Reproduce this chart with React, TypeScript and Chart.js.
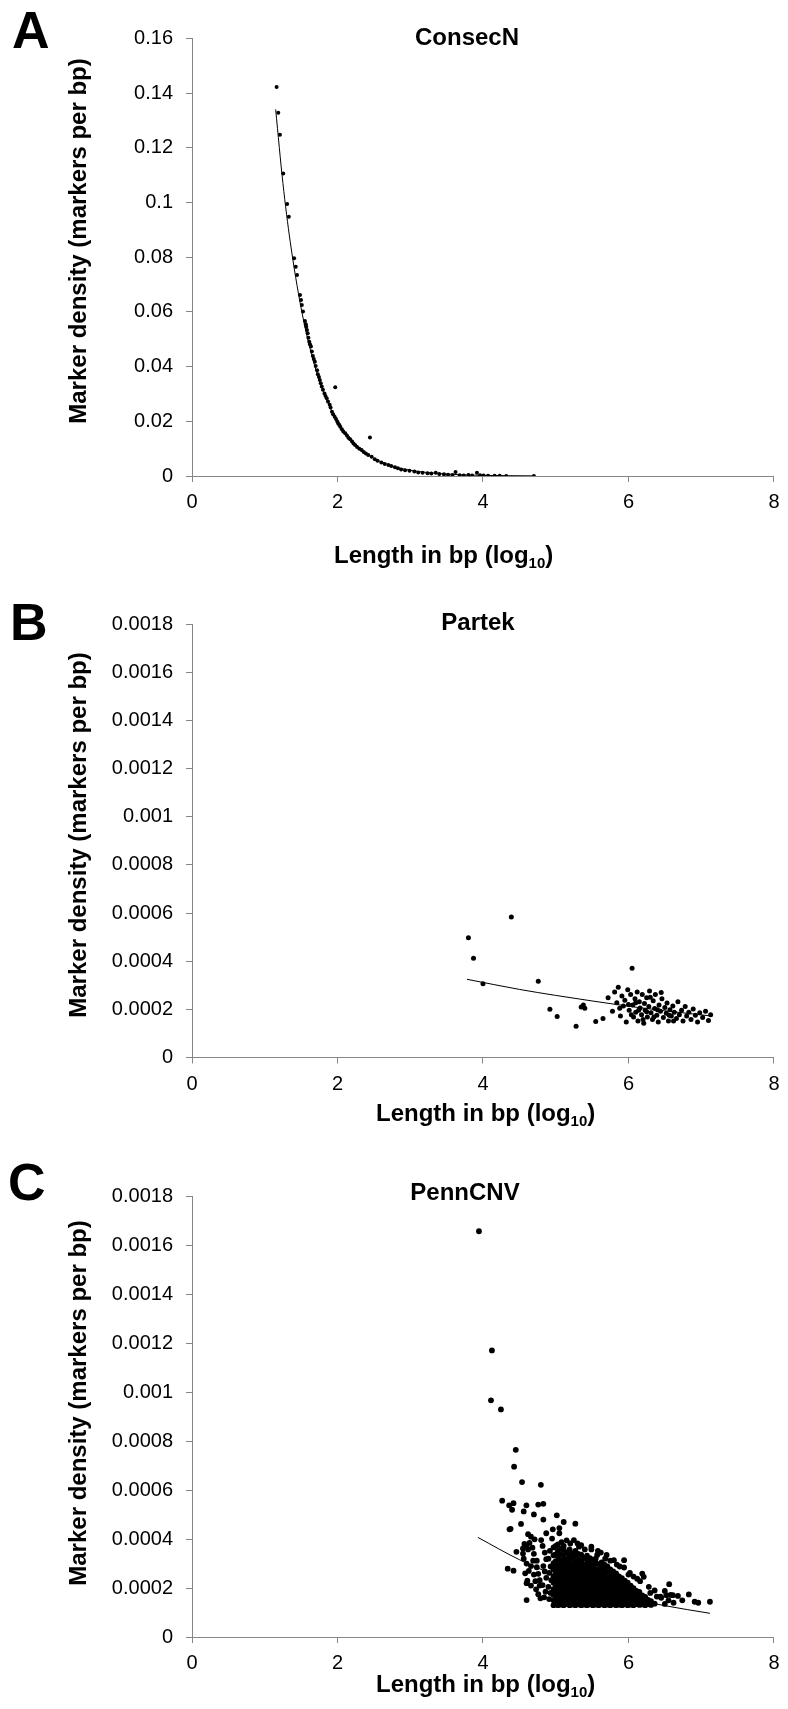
import React, { useEffect, useRef } from "react";
import { Chart, registerables } from "chart.js";

Chart.register(...registerables);

const FONT = "'Liberation Sans', Arial, Helvetica, sans-serif";
const AXIS_GREY = "#868686";

// ---------- tick values / labels ----------
const xTickValues = [0, 2, 4, 6, 8];
const xTickLabels = ["0", "2", "4", "6", "8"];
const consecYTickValues = [0, 0.02, 0.04, 0.06, 0.08, 0.1, 0.12, 0.14, 0.16];
const consecYTickLabels = ["0", "0.02", "0.04", "0.06", "0.08", "0.1", "0.12", "0.14", "0.16"];
const densityYTickValues = [0, 0.0002, 0.0004, 0.0006, 0.0008, 0.001, 0.0012, 0.0014, 0.0016, 0.0018];
const densityYTickLabels = ["0", "0.0002", "0.0004", "0.0006", "0.0008", "0.001", "0.0012", "0.0014", "0.0016", "0.0018"];

// ---------- A: ConsecN (log10 length, markers per bp) ----------
const consecPoints: [number, number][] = [
  [1.163, 0.1422], [1.186, 0.1328], [1.209, 0.1247], [1.254, 0.1106], [1.308, 0.0994],
  [1.331, 0.0948], [1.404, 0.0796], [1.426, 0.0765], [1.444, 0.0735], [1.485, 0.0662],
  [1.499, 0.0643], [1.51, 0.0625], [1.526, 0.0601], [1.553, 0.0567], [1.565, 0.0555],
  [1.571, 0.0546], [1.58, 0.0534], [1.59, 0.0522], [1.6, 0.0505], [1.612, 0.0491],
  [1.622, 0.0482], [1.635, 0.0473], [1.648, 0.0455], [1.662, 0.0439], [1.675, 0.0428],
  [1.689, 0.0418], [1.7, 0.0402], [1.72, 0.0387], [1.73, 0.0372], [1.745, 0.0362],
  [1.757, 0.0351], [1.77, 0.0339], [1.784, 0.0327], [1.8, 0.0315], [1.821, 0.0302],
  [1.835, 0.0292], [1.852, 0.0284], [1.87, 0.0272], [1.893, 0.026], [1.905, 0.025],
  [1.924, 0.0235], [1.94, 0.0226], [1.961, 0.0217], [1.969, 0.0324], [1.98, 0.0208],
  [1.997, 0.0199], [2.01, 0.0192], [2.025, 0.0186], [2.038, 0.018], [2.06, 0.0171],
  [2.08, 0.0163], [2.106, 0.0156], [2.13, 0.0148], [2.15, 0.014], [2.174, 0.0134],
  [2.2, 0.0126], [2.22, 0.0119], [2.242, 0.0113], [2.27, 0.0106], [2.3, 0.01],
  [2.332, 0.0095], [2.36, 0.0088], [2.39, 0.0082], [2.423, 0.0077], [2.446, 0.0141],
  [2.47, 0.007], [2.513, 0.0061], [2.55, 0.0056], [2.603, 0.0049], [2.65, 0.0044],
  [2.7, 0.004], [2.739, 0.0037], [2.79, 0.0032], [2.83, 0.0028], [2.875, 0.0024],
  [2.93, 0.0021], [2.99, 0.0019], [3.057, 0.0016], [3.11, 0.0013], [3.17, 0.0012],
  [3.238, 0.001], [3.29, 0.0009], [3.351, 0.0012], [3.4, 0.0007], [3.464, 0.0006],
  [3.52, 0.0005], [3.58, 0.0004], [3.623, 0.0015], [3.68, 0.0003], [3.736, 0.0002],
  [3.8, 0.0004], [3.85, 0.0002], [3.917, 0.0012], [3.96, 0.0003], [4.008, 0.0002],
  [4.07, 0.0001], [4.16, 0.0001], [4.23, 0.0001], [4.32, 0.0], [4.7, 0.0],
];
const consecTrend: [number, number][] = [
  [1.15, 0.134], [1.25, 0.107], [1.35, 0.0857], [1.5, 0.0614], [1.65, 0.0438], [1.8, 0.0313],
  [2.0, 0.0199], [2.25, 0.0114], [2.5, 0.0065], [2.75, 0.0037], [3.0, 0.0021], [3.5, 0.0007],
  [4.0, 0.00023], [4.7, 0.00005],
];

// ---------- B: Partek ----------
const partekPoints: [number, number][] = [
  [3.8, 0.000498], [3.87, 0.000412], [4.0, 0.000306], [4.39, 0.000584], [4.76, 0.000317],
  [4.92, 0.0002], [5.02, 0.00017], [5.28, 0.00013], [5.35, 0.00021], [5.38, 0.000218],
  [5.4, 0.000205], [5.55, 0.00015], [5.65, 0.000162],
  [5.72, 0.000248], [5.78, 0.000192], [5.81, 0.000272], [5.84, 0.000228], [5.86, 0.000292],
  [5.89, 0.000172], [5.91, 0.000256], [5.93, 0.000214], [5.95, 0.000238], [5.97, 0.000148],
  [5.99, 0.000282], [6.01, 0.000196], [6.03, 0.000262], [6.05, 0.000371], [6.06, 0.000218],
  [6.07, 0.000168], [6.09, 0.000244], [6.1, 0.000188], [6.12, 0.000272], [6.13, 0.000152],
  [6.15, 0.000232], [6.16, 0.000206], [6.18, 0.000178], [6.19, 0.000262], [6.21, 0.000142],
  [6.22, 0.000224], [6.23, 0.000196], [6.25, 0.000248], [6.26, 0.000168], [6.28, 0.000212],
  [6.29, 0.000276], [6.31, 0.000186], [6.33, 0.000158], [6.34, 0.000236], [6.36, 0.000204],
  [6.37, 0.000262], [6.39, 0.000176], [6.41, 0.000148], [6.42, 0.000218], [6.44, 0.000192],
  [6.46, 0.000244], [6.48, 0.000166], [6.5, 0.000208], [6.52, 0.000184], [6.53, 0.000226],
  [6.55, 0.000152], [6.57, 0.000198], [6.59, 0.000172], [6.61, 0.000214], [6.63, 0.000188],
  [6.66, 0.000162], [6.68, 0.000232], [6.7, 0.000178], [6.73, 0.000196], [6.75, 0.000152],
  [6.78, 0.000212], [6.8, 0.000172], [6.83, 0.000188], [6.86, 0.000158], [6.89, 0.000202],
  [6.92, 0.000176], [6.95, 0.000148], [6.98, 0.000186], [7.02, 0.000166], [7.06, 0.000192],
  [7.1, 0.000154], [7.13, 0.000178], [6.2, 0.000158], [6.0, 0.00022], [6.3, 0.00025],
  [6.45, 0.00027], [5.88, 0.000205], [6.1, 0.000228], [6.25, 0.00019], [6.62, 0.000152],
  [6.4, 0.000198], [6.04, 0.000178], [6.14, 0.000196], [6.35, 0.000168], [6.56, 0.000176],
];
const partekTrend: [number, number][] = [
  [3.78, 0.000325], [4.5, 0.000283], [5.0, 0.000258], [5.5, 0.000235], [6.0, 0.000213],
  [6.5, 0.000194], [7.15, 0.000172],
];

// ---------- C: PennCNV ----------
const pennScatter: [number, number][] = [
  [3.945, 0.001658], [4.123, 0.001171], [4.11, 0.000967], [4.247, 0.00093], [4.451, 0.000765],
  [4.428, 0.000696], [4.537, 0.000633], [4.796, 0.000622], [4.264, 0.000557], [4.36, 0.000538],
  [4.42, 0.000547], [4.4, 0.00052], [4.597, 0.000538], [4.56, 0.000513], [4.7, 0.000501],
  [4.76, 0.000541], [4.83, 0.000544], [5.015, 0.000497], [4.83, 0.00048], [4.523, 0.000462],
  [4.365, 0.00044], [4.38, 0.000442], [4.96, 0.00044], [5.11, 0.00047], [5.27, 0.000463],
  [4.62, 0.00042], [4.66, 0.00041], [4.71, 0.000399], [4.8, 0.000396], [4.87, 0.000424],
  [5.05, 0.000445], [5.05, 0.000424], [5.25, 0.000396], [4.34, 0.000279], [4.42, 0.000271],
  [4.6, 0.000151], [4.79, 0.000158], [5.94, 0.000314], [5.94, 0.000284], [6.19, 0.000259],
  [6.21, 0.000246], [6.56, 0.000216], [6.83, 0.000174], [6.91, 0.000144], [6.96, 0.00014],
  [7.12, 0.000144], [6.61, 0.000171], [6.52, 0.000171], [6.44, 0.000165], [5.49, 0.000369],
  [5.49, 0.000358], [5.32, 0.000369], [5.57, 0.000335], [5.7, 0.000335], [5.8, 0.000314],
  [6.07, 0.000247], [6.3, 0.00018], [6.39, 0.000165], [4.57, 0.00038], [4.6, 0.000372],
  [4.64, 0.000385], [4.55, 0.000362], [4.62, 0.000358], [4.46, 0.000348], [4.55, 0.000341],
  [4.56, 0.00032], [4.6, 0.0003], [4.58, 0.00026], [4.63, 0.00027], [4.61, 0.00023],
  [4.66, 0.00021], [4.6, 0.00022], [4.68, 0.000365], [4.7, 0.00034], [4.74, 0.000312],
  [4.74, 0.000285], [4.76, 0.000258], [4.78, 0.000232], [4.72, 0.000228], [4.73, 0.000195],
  [4.76, 0.000175], [4.78, 0.00021], [4.82, 0.000372], [4.85, 0.000345], [4.87, 0.000318],
  [4.83, 0.00029], [4.85, 0.000268], [4.87, 0.000242], [4.82, 0.000212], [4.86, 0.000185],
  [4.84, 0.000162], [4.7, 0.000255], [4.66, 0.00029], [4.69, 0.000312], [6.5, 0.000135],
  [6.55, 0.00015], [6.62, 0.00014], [6.45, 0.00016], [6.5, 0.000188], [6.58, 0.000172],
  [5.4, 0.000358], [5.15, 0.000395], [5.62, 0.000345], [5.75, 0.000312], [5.88, 0.000288],
  [6.02, 0.000262], [6.12, 0.000238], [5.2, 0.000382], [4.95, 0.000402], [5.35, 0.000375],
  [4.92, 0.000352], [4.9, 0.00032], [4.93, 0.000288], [4.91, 0.000262], [4.94, 0.000232],
  [4.9, 0.000205], [4.93, 0.00018], [4.91, 0.000155], [5.08, 0.000388], [5.3, 0.000382],
  [5.58, 0.000352], [5.68, 0.00032], [5.84, 0.000296], [6.0, 0.000255], [6.16, 0.000228],
  [6.28, 0.000205], [6.36, 0.00019], [6.68, 0.000168], [6.74, 0.00015],
];
// dense core, listed column by column: [log10 length, densities at that length]
const pennCore: [number, number[]][] = [
  [4.97, [0.00013, 0.00015, 0.000172, 0.000196, 0.000222, 0.000248, 0.000275, 0.000302, 0.000334, 0.000366]],
  [5.0, [0.000134, 0.000152, 0.00017, 0.00019, 0.000212, 0.000236, 0.000258, 0.000284, 0.00031, 0.000338, 0.000372]],
  [5.03, [0.00013, 0.000148, 0.000166, 0.000184, 0.000202, 0.00022, 0.000238, 0.000256, 0.000274, 0.000292, 0.00031, 0.00033, 0.000352, 0.000378]],
  [5.07, [0.000132, 0.00015, 0.000168, 0.000186, 0.000204, 0.000222, 0.00024, 0.000258, 0.000276, 0.000294, 0.000314, 0.000336, 0.00036]],
  [5.11, [0.00013, 0.000148, 0.000166, 0.000184, 0.000202, 0.00022, 0.000238, 0.000256, 0.000274, 0.000292, 0.000312, 0.000334, 0.000356, 0.000372]],
  [5.15, [0.000134, 0.000152, 0.00017, 0.000188, 0.000206, 0.000224, 0.000242, 0.00026, 0.000278, 0.000296, 0.000318, 0.000344]],
  [5.19, [0.00013, 0.000148, 0.000166, 0.000184, 0.000202, 0.00022, 0.000238, 0.000256, 0.000274, 0.000292, 0.000312, 0.000334, 0.000358]],
  [5.23, [0.000132, 0.00015, 0.000168, 0.000186, 0.000204, 0.000222, 0.00024, 0.000258, 0.000276, 0.000296, 0.00032, 0.000342]],
  [5.27, [0.00013, 0.000148, 0.000166, 0.000184, 0.000202, 0.00022, 0.000238, 0.000256, 0.000274, 0.000292, 0.00031, 0.000332, 0.000352]],
  [5.31, [0.000133, 0.000151, 0.000169, 0.000187, 0.000205, 0.000223, 0.000241, 0.000259, 0.000277, 0.000297, 0.000318, 0.00034]],
  [5.35, [0.00013, 0.000148, 0.000166, 0.000184, 0.000202, 0.00022, 0.000238, 0.000256, 0.000274, 0.000292, 0.000312, 0.000336]],
  [5.39, [0.000132, 0.00015, 0.000168, 0.000186, 0.000204, 0.000222, 0.00024, 0.000258, 0.000276, 0.000296, 0.000322]],
  [5.43, [0.00013, 0.000148, 0.000166, 0.000184, 0.000202, 0.00022, 0.000238, 0.000256, 0.000274, 0.000294, 0.000314, 0.000332]],
  [5.47, [0.000133, 0.000151, 0.000169, 0.000187, 0.000205, 0.000223, 0.000241, 0.000259, 0.000279, 0.0003, 0.000322]],
  [5.51, [0.00013, 0.000148, 0.000166, 0.000184, 0.000202, 0.00022, 0.000238, 0.000256, 0.000274, 0.000294, 0.000316]],
  [5.55, [0.000132, 0.00015, 0.000168, 0.000186, 0.000204, 0.000222, 0.00024, 0.000258, 0.000278, 0.000302, 0.00032]],
  [5.59, [0.00013, 0.000148, 0.000166, 0.000184, 0.000202, 0.00022, 0.000238, 0.000256, 0.000276, 0.000298]],
  [5.63, [0.000133, 0.000151, 0.000169, 0.000187, 0.000205, 0.000223, 0.000241, 0.00026, 0.000282, 0.000305]],
  [5.67, [0.00013, 0.000148, 0.000166, 0.000184, 0.000202, 0.00022, 0.000238, 0.000256, 0.000276, 0.000296]],
  [5.71, [0.000132, 0.00015, 0.000168, 0.000186, 0.000204, 0.000222, 0.000242, 0.000264, 0.000288]],
  [5.75, [0.00013, 0.000148, 0.000166, 0.000184, 0.000202, 0.00022, 0.00024, 0.000258, 0.000276]],
  [5.79, [0.000133, 0.000151, 0.000169, 0.000187, 0.000205, 0.000225, 0.000246, 0.000268]],
  [5.83, [0.00013, 0.000148, 0.000166, 0.000184, 0.000202, 0.00022, 0.00024, 0.00026]],
  [5.87, [0.000132, 0.00015, 0.000168, 0.000186, 0.000206, 0.000228, 0.000248]],
  [5.91, [0.00013, 0.000148, 0.000166, 0.000184, 0.000204, 0.000222, 0.00024]],
  [5.95, [0.000133, 0.000151, 0.000169, 0.000189, 0.00021, 0.00023]],
  [5.99, [0.00013, 0.000148, 0.000166, 0.000186, 0.000204, 0.000222]],
  [6.03, [0.000132, 0.00015, 0.00017, 0.00019, 0.00021]],
  [6.07, [0.00013, 0.000148, 0.000166, 0.000182, 0.0002]],
  [6.11, [0.000134, 0.000152, 0.00017, 0.000188]],
  [6.15, [0.000131, 0.000148, 0.000166, 0.000184]],
  [6.19, [0.000133, 0.000152, 0.00017]],
  [6.23, [0.00013, 0.000148, 0.000164]],
  [6.27, [0.000134, 0.000152]],
  [6.31, [0.000131, 0.000146]],
  [6.36, [0.000136]],
];
const pennTrend: [number, number][] = [
  [3.93, 0.000407], [4.5, 0.000316], [5.0, 0.000252], [5.5, 0.000201], [6.0, 0.00016],
  [6.5, 0.000128], [7.12, 0.0000968],
];

// ---------- text plugin (panel letter, title, axis titles) ----------
const panelTextPlugin = {
  id: "panelText",
  afterDraw(chart: any, _args: any, o: any) {
    const ctx: CanvasRenderingContext2D = chart.ctx;
    ctx.save();
    ctx.fillStyle = "#000";
    ctx.textBaseline = "alphabetic";
    ctx.font = `bold 52px ${FONT}`;
    ctx.textAlign = "left";
    ctx.fillText(o.letter, o.letterX, o.letterY);
    ctx.font = `bold 24px ${FONT}`;
    ctx.textAlign = "center";
    ctx.fillText(o.title, o.titleX, o.titleY);
    ctx.textAlign = "left";
    ctx.font = `bold 24px ${FONT}`;
    let x = o.xTitleX;
    const main = "Length in bp (log";
    ctx.fillText(main, x, o.xTitleY);
    x += ctx.measureText(main).width;
    ctx.font = `bold 15px ${FONT}`;
    ctx.fillText("10", x, o.xTitleY + 5);
    x += ctx.measureText("10").width;
    ctx.font = `bold 24px ${FONT}`;
    ctx.fillText(")", x, o.xTitleY);
    ctx.translate(o.yTitleX, o.yTitleY);
    ctx.rotate(-Math.PI / 2);
    ctx.textAlign = "center";
    ctx.textBaseline = "middle";
    ctx.font = `bold 24px ${FONT}`;
    ctx.fillText("Marker density (markers per bp)", 0, 0);
    ctx.restore();
  },
};

type PanelSpec = {
  height: number;
  yMax: number;
  yTickValues: number[];
  yTickLabels: string[];
  points: [number, number][];
  trend: [number, number][];
  pointRadius: number;
  padTop: number;
  padBottom: number;
  text: any;
};

function makeConfig(s: PanelSpec): any {
  const tickFont = { family: FONT, size: 20 };
  return {
    type: "scatter",
    data: {
      datasets: [
        {
          data: s.trend.map(([x, y]) => ({ x, y })),
          showLine: true,
          borderColor: "#000",
          borderWidth: 1,
          pointRadius: 0,
          cubicInterpolationMode: "monotone",
          fill: false,
          order: 2,
        },
        {
          data: s.points.map(([x, y]) => ({ x, y })),
          pointRadius: s.pointRadius,
          pointBackgroundColor: "#000",
          pointBorderWidth: 0,
          showLine: false,
          order: 1,
        },
      ],
    },
    options: {
      responsive: false,
      maintainAspectRatio: false,
      animation: false,
      devicePixelRatio: 1,
      events: [],
      layout: { padding: { left: 0, right: 9.5, top: s.padTop, bottom: s.padBottom } },
      plugins: {
        legend: { display: false },
        tooltip: { enabled: false },
        title: { display: false },
        panelText: s.text,
      },
      scales: {
        x: {
          type: "linear",
          min: 0,
          max: 8,
          afterBuildTicks: (scale: any) => {
            scale.ticks = xTickValues.map((v) => ({ value: v }));
          },
          afterFit: (scale: any) => {
            scale.height = 45;
          },
          ticks: {
            font: tickFont,
            color: "#000",
            padding: 8.5,
            maxRotation: 0,
            autoSkip: false,
            callback: (_v: any, i: number) => xTickLabels[i],
          },
          grid: { drawOnChartArea: false, drawTicks: true, tickLength: 6, color: AXIS_GREY },
          border: { display: true, color: AXIS_GREY, width: 1 },
        },
        y: {
          type: "linear",
          min: 0,
          max: s.yMax,
          afterBuildTicks: (scale: any) => {
            scale.ticks = s.yTickValues.map((v) => ({ value: v }));
          },
          afterFit: (scale: any) => {
            scale.width = 192;
          },
          ticks: {
            font: tickFont,
            color: "#000",
            padding: 13,
            autoSkip: false,
            callback: (_v: any, i: number) => s.yTickLabels[i],
          },
          grid: { drawOnChartArea: false, drawTicks: true, tickLength: 6, color: AXIS_GREY },
          border: { display: true, color: AXIS_GREY, width: 1 },
        },
      },
    },
    plugins: [panelTextPlugin],
  };
}

function Panel({ spec, top }: { spec: PanelSpec; top: number }) {
  const ref = useRef<HTMLCanvasElement>(null);
  useEffect(() => {
    const chart = new Chart(ref.current as HTMLCanvasElement, makeConfig(spec));
    return () => chart.destroy();
  }, []);
  return (
    <canvas
      ref={ref}
      width={788}
      height={spec.height}
      style={{ position: "absolute", left: 0, top, width: 788, height: spec.height, display: "block" }}
    />
  );
}

const pennPoints: [number, number][] = [
  ...pennScatter,
  ...pennCore.flatMap(([x, ys]) => ys.map((y) => [x, y] as [number, number])),
];

const specA: PanelSpec = {
  height: 585,
  yMax: 0.16,
  yTickValues: consecYTickValues,
  yTickLabels: consecYTickLabels,
  points: consecPoints,
  trend: consecTrend,
  pointRadius: 2,
  padTop: 38.3,
  padBottom: 585 - 476 - 45,
  text: { letter: "A", letterX: 12, letterY: 48, title: "ConsecN", titleX: 467, titleY: 45, xTitleX: 334, xTitleY: 563, yTitleX: 79, yTitleY: 241 },
};
const specB: PanelSpec = {
  height: 555,
  yMax: 0.0018,
  yTickValues: densityYTickValues,
  yTickLabels: densityYTickLabels,
  points: partekPoints,
  trend: partekTrend,
  pointRadius: 2.5,
  padTop: 39.3,
  padBottom: 555 - 472.5 - 45,
  text: { letter: "B", letterX: 10, letterY: 55, title: "Partek", titleX: 478, titleY: 45, xTitleX: 376, xTitleY: 536, yTitleX: 79, yTitleY: 250 },
};
const specC: PanelSpec = {
  height: 569,
  yMax: 0.0018,
  yTickValues: densityYTickValues,
  yTickLabels: densityYTickLabels,
  points: pennPoints,
  trend: pennTrend,
  pointRadius: 2.9,
  padTop: 56.5,
  padBottom: 569 - 497 - 45,
  text: { letter: "C", letterX: 8, letterY: 60, title: "PennCNV", titleX: 465, titleY: 60, xTitleX: 376, xTitleY: 552, yTitleX: 79, yTitleY: 263 },
};

export default function App() {
  return (
    <div style={{ position: "absolute", left: 0, top: 0, width: 788, height: 1709, background: "#fff" }}>
      <Panel spec={specA} top={0} />
      <Panel spec={specB} top={585} />
      <Panel spec={specC} top={1140} />
    </div>
  );
}
